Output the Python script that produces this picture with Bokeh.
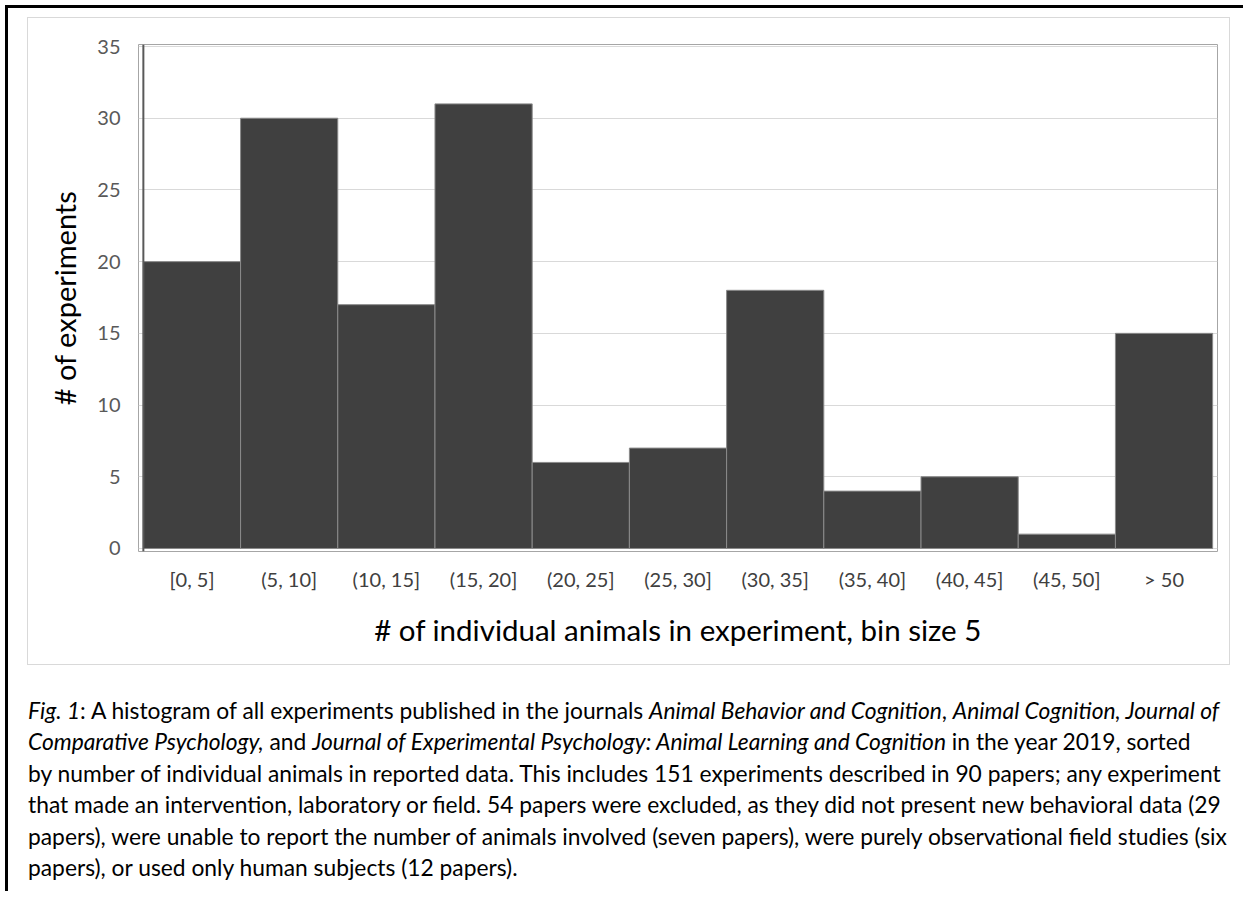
from bokeh.plotting import figure
from bokeh.models import Range1d, FactorRange, FixedTicker, Span, Div
from bokeh.layouts import column
from bokeh.embed import file_html
from bokeh.resources import INLINE

# ---- data ----
bins = ["[0, 5]", "(5, 10]", "(10, 15]", "(15, 20]", "(20, 25]", "(25, 30]",
        "(30, 35]", "(35, 40]", "(40, 45]", "(45, 50]", "> 50"]
counts = [20, 30, 17, 31, 6, 7, 18, 4, 5, 1, 15]
y_ticks = [0, 5, 10, 15, 20, 25, 30, 35]

x_title = "# of individual animals in experiment, bin size 5"
y_title = "# of experiments"

caption_lines = [
    "<i>Fig. 1</i>: A histogram of all experiments published in the journals <i>Animal Behavior and Cognition</i>, <i>Animal Cognition, Journal of</i>",
    "<i>Comparative Psychology,</i> and <i>Journal of Experimental Psychology: Animal Learning and Cognition</i> in the year 2019, sorted",
    "by number of individual animals in reported data. This includes 151 experiments described in 90 papers; any experiment",
    "that made an intervention, laboratory or field. 54 papers were excluded, as they did not present new behavioral data (29",
    "papers), were unable to report the number of animals involved (seven papers), were purely observational field studies (six",
    "papers), or used only human subjects (12 papers).",
]

FONT = "Lato"

p = figure(
    x_range=FactorRange(factors=bins, range_padding=0.05, range_padding_units="absolute"),
    y_range=Range1d(-0.21, 35.14),
    width=1203, height=648,
    output_backend="svg", toolbar_location=None,
    min_border_left=110, min_border_right=14, min_border_top=26, min_border_bottom=115,
    margin=(9, 0, 0, 19),
    styles={"border": "1px solid #d9d9d9"},
)

p.vbar(x=bins, top=counts, bottom=0, width=1.0,
       fill_color="#404040", line_color="#8a8a8a", line_width=1)

p.outline_line_color = "#a6a6a6"
p.outline_line_width = 1
p.background_fill_color = "white"
p.border_fill_color = "white"

p.xgrid.visible = False
p.ygrid.ticker = FixedTicker(ticks=y_ticks)
p.ygrid.grid_line_color = "#d9d9d9"
p.ygrid.grid_line_width = 1

p.add_layout(Span(location=0, dimension="height", line_color="#595959", line_width=2))

# x axis
xa = p.xaxis[0]
xa.axis_line_color = None
xa.major_tick_line_color = None
xa.minor_tick_line_color = None
xa.major_label_standoff = 9
xa.major_label_text_font = FONT
xa.major_label_text_font_size = "20px"
xa.major_label_text_color = "#404040"
xa.axis_label = x_title
xa.axis_label_text_font = FONT
xa.axis_label_text_font_size = "29.5px"
xa.axis_label_text_font_style = "normal"
xa.axis_label_text_color = "#000000"
xa.axis_label_standoff = 18

# y axis
ya = p.yaxis[0]
ya.ticker = FixedTicker(ticks=y_ticks)
ya.axis_line_color = None
ya.major_tick_line_color = None
ya.minor_tick_line_color = None
ya.major_label_standoff = 12
ya.major_label_text_font = FONT
ya.major_label_text_font_size = "20px"
ya.major_label_text_color = "#595959"
ya.axis_label = y_title
ya.axis_label_text_font = FONT
ya.axis_label_text_font_size = "29px"
ya.axis_label_text_font_style = "normal"
ya.axis_label_text_color = "#000000"
ya.axis_label_standoff = 12

cap = Div(
    text="<br>".join(caption_lines),
    width=1215, height=196,
    margin=(30, 0, 0, 20),
    styles={"font-family": FONT, "font-size": "22.8px", "line-height": "31.4px",
            "color": "#000000", "white-space": "nowrap"},
)

root = column(p, cap, margin=(5, 0, 0, 5),
              styles={"border-left": "3px solid black", "border-top": "3px solid black"})

open("out.html", "w").write(file_html(root, INLINE))
